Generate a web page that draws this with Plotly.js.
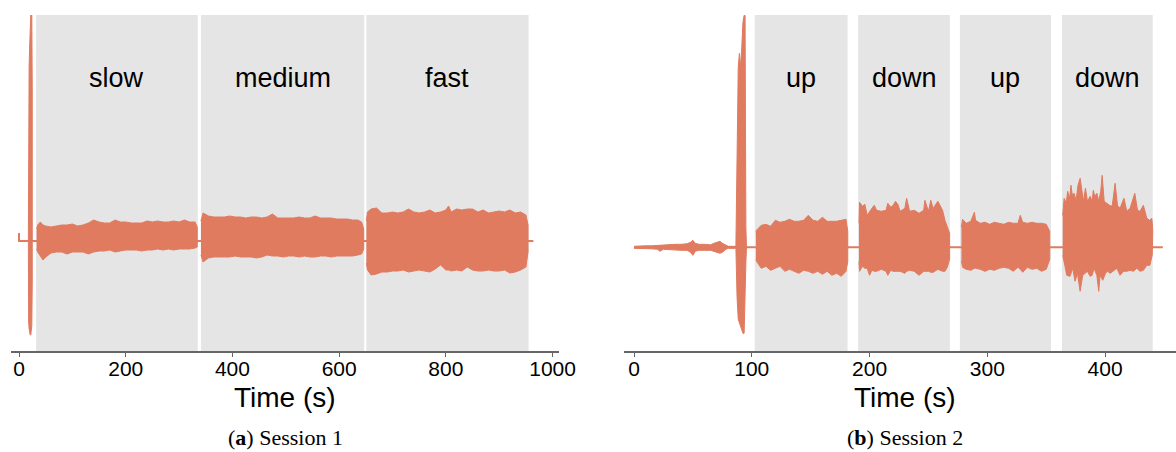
<!DOCTYPE html>
<html>
<head>
<meta charset="utf-8">
<script src="https://cdn.plot.ly/plotly-3.0.1.min.js"></script>
<style>html,body{margin:0;padding:0;background:#fff;}#chart{width:1176px;height:452px;}</style>
</head>
<body>
<div id="chart"></div>
<script>
// ---------- Session 1 (a) ----------
const s1Regions = ['slow', 'medium', 'fast'];
const s1RegStart = [32, 341, 651];
const s1RegEnd = [335, 647, 955];
const s1Ticks = [0, 200, 400, 600, 800, 1000];

// baseline (with small start step)
const s1BaseT = [0, 0, 964];
const s1BaseV = [8, 0, 0];

// initial spike (envelope)
const s1SpikeT = [17.5, 18, 19, 20, 21, 22, 23, 24, 24.8, 25.2];
const s1SpikeHi = [0, 150, 175, 195, 215, 226, 226, 226, 150, 0];
const s1SpikeLo = [0, -80, -88, -92, -94, -94, -92, -85, -40, 0];

// slow segment envelope
const s1SlowT = [33, 35, 40, 45, 50, 60, 70, 80, 90, 100, 110, 120, 130, 140, 150, 160, 170, 180, 190, 200, 210, 220, 230, 240, 250, 260, 270, 280, 290, 300, 310, 320, 330, 334];
const s1SlowHi = [12, 16, 19, 16, 15, 14, 15, 16, 16, 17, 15, 16, 18, 21, 19, 18, 18, 21, 19, 19, 18, 18, 18, 20, 19, 20, 19, 19, 20, 19, 21, 19, 19, 14];
const s1SlowLo = [-8, -11, -15, -19, -16, -12, -11, -11, -13, -11, -11, -11, -13, -11, -10, -10, -9, -11, -10, -9, -9, -9, -10, -9, -9, -8, -9, -8, -9, -8, -8, -8, -7, -6];

// medium segment envelope
const s1MedT = [341, 345, 355, 365, 375, 385, 395, 405, 415, 425, 435, 445, 455, 465, 475, 485, 495, 505, 515, 525, 535, 545, 555, 565, 575, 585, 595, 605, 615, 625, 635, 642, 646];
const s1MedHi = [20, 28, 25, 24, 24, 24, 25, 24, 24, 23, 24, 24, 23, 24, 27, 23, 23, 23, 23, 24, 23, 23, 25, 23, 23, 23, 22, 22, 22, 21, 21, 19, 12];
const s1MedLo = [-14, -21, -17, -16, -16, -16, -16, -15, -16, -16, -16, -17, -16, -14, -15, -15, -16, -15, -15, -16, -15, -16, -16, -15, -15, -16, -15, -15, -15, -15, -14, -13, -8];

// fast segment envelope
const s1FastT = [651, 653, 660, 670, 680, 690, 700, 710, 720, 730, 740, 750, 760, 770, 780, 790, 800, 805, 810, 820, 830, 840, 850, 860, 870, 880, 890, 900, 910, 920, 930, 940, 950, 954];
const s1FastHi = [20, 29, 32, 33, 28, 28, 29, 28, 29, 32, 29, 28, 29, 31, 28, 29, 31, 35, 29, 32, 31, 32, 32, 29, 31, 28, 29, 30, 29, 31, 28, 29, 26, 16];
const s1FastLo = [-22, -29, -34, -33, -31, -31, -30, -30, -29, -31, -30, -29, -30, -31, -28, -24, -29, -29, -30, -29, -30, -26, -29, -30, -30, -29, -30, -30, -29, -32, -31, -29, -26, -11];

// ---------- Session 2 (b) ----------
const s2Regions = ['up', 'down', 'up', 'down'];
const s2RegStart = [102.5, 190.3, 276.7, 363.4];
const s2RegEnd = [181.3, 268.2, 354, 440.4];
const s2Ticks = [0, 100, 200, 300, 400];

const s2BaseT = [0, 449];
const s2BaseV = [0, 0];

// low-level noise before the spike
const s2PreT = [0, 5, 10, 15, 20, 22, 25, 30, 35, 40, 45, 48, 50, 52, 55, 60, 65, 68, 70, 73, 75, 78, 80, 83, 86];
const s2PreHi = [1, 1.5, 1.5, 1.5, 2, 2, 2, 2.5, 3, 3, 3.5, 5, 7, 4, 3, 3, 2.5, 4, 5, 6, 4, 2, 1, 1, 1];
const s2PreLo = [-1, -1.5, -1.5, -1.5, -2, -4, -2, -2, -2.5, -3, -3, -5, -8, -4, -3, -3, -3, -4, -5, -6, -5, -2, -1, -1, -1];

// spike
const s2SpikeT = [86.5, 87.5, 88.5, 89.5, 90.5, 91.5, 92.5, 93.5, 94.3, 95, 95.5];
const s2SpikeHi = [0, 110, 180, 194, 180, 200, 225, 232, 232, 20, 0];
const s2SpikeLo = [0, -50, -72, -76, -78, -82, -86, -86, -70, -15, 0];

// up (1)
const s2Up1T = [103.5, 104, 108, 112, 116, 120, 124, 128, 132, 136, 140, 144, 148, 152, 156, 160, 164, 168, 172, 176, 180, 181.5];
const s2Up1Hi = [15, 17, 22, 23, 21, 27, 25, 26, 28, 26, 26, 27, 32, 27, 26, 30, 26, 26, 26, 27, 28, 16];
const s2Up1Lo = [-12, -14, -21, -19, -23, -21, -19, -24, -22, -24, -26, -23, -24, -26, -24, -27, -24, -28, -26, -29, -24, -14];

// down (1)
const s2Dn1T = [191, 191.5, 194, 196, 198, 200, 202, 204, 206, 210, 214, 215.5, 218, 220, 222, 224, 226, 230, 231.5, 234, 238, 242, 246, 247, 250, 252, 254, 258, 262, 264, 266, 268];
const s2Dn1Hi = [24, 45, 41, 43, 32, 36, 39, 42, 37, 36, 37, 44, 40, 42, 46, 43, 36, 39, 49, 36, 37, 34, 37, 47, 36, 47, 39, 46, 37, 27, 20, 14];
const s2Dn1Lo = [-14, -24, -19, -21, -21, -28, -23, -24, -24, -22, -24, -28, -23, -24, -24, -24, -24, -26, -24, -23, -24, -28, -24, -24, -24, -25, -25, -22, -24, -24, -20, -12];

// up (2)
const s2Up2T = [278, 279, 282, 286, 289, 290, 294, 298, 302, 306, 310, 314, 318, 322, 326, 328, 330, 334, 338, 342, 346, 350, 353];
const s2Up2Hi = [20, 28, 24, 26, 35, 27, 24, 25, 23, 25, 24, 23, 25, 24, 24, 32, 25, 24, 25, 24, 24, 23, 16];
const s2Up2Lo = [-14, -20, -22, -23, -21, -21, -22, -24, -22, -23, -21, -20, -21, -24, -20, -22, -25, -20, -22, -21, -24, -22, -12];

// down (2)
const s2Dn2HiT = [364, 365.2, 367, 368.2, 369.9, 371, 372.2, 373.6, 375.4, 377, 378.8, 380.5, 381.6, 383.3, 385, 387.3, 389, 390, 391.2, 393, 394.6, 396.3, 397.5, 399.2, 401.4, 403.7, 406, 408.5, 410.5, 412.7, 416, 418.4, 421.2, 425.2, 427.5, 429.7, 432.5, 435.4, 437.7, 439.7, 440.5];
const s2Dn2Hi = [32, 49, 44, 56, 49, 62, 52, 54, 47, 62, 69, 52, 46, 59, 46, 51, 46, 57, 51, 54, 46, 56, 72, 46, 44, 42, 41, 64, 42, 39, 49, 36, 39, 54, 37, 36, 42, 29, 27, 29, 16];
const s2Dn2LoT = [364, 365.8, 367.4, 370.2, 372.5, 374.5, 376.5, 378.8, 381, 383, 385, 387.3, 389, 390.6, 393, 394.6, 395.7, 398, 400.3, 402, 404.3, 407, 410, 412.7, 415.6, 418.4, 421.2, 424, 426.9, 429.7, 432.5, 435.4, 438, 440];
const s2Dn2Lo = [-8, -18, -28, -29, -21, -34, -26, -44, -28, -26, -24, -29, -28, -21, -28, -44, -28, -33, -26, -24, -26, -24, -21, -28, -24, -24, -23, -24, -21, -24, -23, -18, -18, -8];

// ---------- drawing ----------
const COL = '#e07b60';
const SHADE = '#e5e5e5';
const FONT = 'Liberation Sans, Arial, sans-serif';

function envelope(tHi, hi, tLo, lo, xa, ya) {
  return {
    x: tHi.concat(tLo.slice().reverse()),
    y: hi.concat(lo.slice().reverse()),
    xaxis: xa, yaxis: ya,
    type: 'scatter', mode: 'lines', fill: 'toself',
    fillcolor: COL, line: {color: COL, width: 1},
    hoverinfo: 'skip', showlegend: false
  };
}
function baseline(t, v, xa, ya) {
  return {x: t, y: v, xaxis: xa, yaxis: ya, type: 'scatter', mode: 'lines',
    line: {color: COL, width: 2}, hoverinfo: 'skip', showlegend: false};
}

const traces = [
  baseline(s1BaseT, s1BaseV, 'x', 'y'),
  envelope(s1SpikeT, s1SpikeHi, s1SpikeT, s1SpikeLo, 'x', 'y'),
  envelope(s1SlowT, s1SlowHi, s1SlowT, s1SlowLo, 'x', 'y'),
  envelope(s1MedT, s1MedHi, s1MedT, s1MedLo, 'x', 'y'),
  envelope(s1FastT, s1FastHi, s1FastT, s1FastLo, 'x', 'y'),
  baseline(s2BaseT, s2BaseV, 'x2', 'y2'),
  envelope(s2PreT, s2PreHi, s2PreT, s2PreLo, 'x2', 'y2'),
  envelope(s2SpikeT, s2SpikeHi, s2SpikeT, s2SpikeLo, 'x2', 'y2'),
  envelope(s2Up1T, s2Up1Hi, s2Up1T, s2Up1Lo, 'x2', 'y2'),
  envelope(s2Dn1T, s2Dn1Hi, s2Dn1T, s2Dn1Lo, 'x2', 'y2'),
  envelope(s2Up2T, s2Up2Hi, s2Up2T, s2Up2Lo, 'x2', 'y2'),
  envelope(s2Dn2HiT, s2Dn2Hi, s2Dn2LoT, s2Dn2Lo, 'x2', 'y2')
];

const shapes = [];
const annotations = [];
function addRegions(starts, ends, labels, xref, yref) {
  for (let i = 0; i < starts.length; i++) {
    shapes.push({type: 'rect', xref: xref, yref: yref + ' domain', x0: starts[i], x1: ends[i], y0: 0, y1: 1,
      fillcolor: SHADE, line: {width: 0}, layer: 'below'});
    annotations.push({xref: xref, yref: yref + ' domain', x: (starts[i] + ends[i]) / 2, y: 0.8125,
      text: labels[i], showarrow: false, xanchor: 'center', yanchor: 'middle',
      font: {family: FONT, size: 27, color: '#000'}});
  }
}
addRegions(s1RegStart, s1RegEnd, s1Regions, 'x', 'y');
addRegions(s2RegStart, s2RegEnd, s2Regions, 'x2', 'y2');

function xTitle(xp, text) {
  annotations.push({xref: 'paper', yref: 'paper', x: xp, y: -0.137, text: text, showarrow: false,
    xanchor: 'center', yanchor: 'middle', font: {family: FONT, size: 28, color: '#000'}});
}
function caption(xp, text) {
  annotations.push({xref: 'paper', yref: 'paper', x: xp, y: -0.256, text: text, showarrow: false,
    xanchor: 'center', yanchor: 'middle', font: {family: 'Liberation Serif, serif', size: 22, color: '#000'}});
}
xTitle(285 / 1176, 'Time (s)');
xTitle(905 / 1176, 'Time (s)');
caption(285 / 1176, '(<b>a</b>) Session 1');
caption(905 / 1176, '(<b>b</b>) Session 2');

function xaxisDef(domain, range, ticks) {
  return {domain: domain, range: range, tickvals: ticks, ticktext: ticks.map(String),
    showline: true, linecolor: '#666', linewidth: 1.5, ticks: 'outside', ticklen: 4,
    tickcolor: '#666', tickwidth: 1, showgrid: false, zeroline: false, ticklabelstandoff: -6,
    tickfont: {family: FONT, size: 21, color: '#000'}, fixedrange: true};
}
const layout = {
  width: 1176, height: 452,
  margin: {l: 0, r: 0, t: 15, b: 101},
  paper_bgcolor: '#fff', plot_bgcolor: '#fff',
  showlegend: false,
  xaxis: xaxisDef([11 / 1176, 559 / 1176], [-15, 1012], s1Ticks),
  yaxis: {domain: [0, 1], range: [-110, 226], visible: false, fixedrange: true},
  xaxis2: Object.assign(xaxisDef([624 / 1176, 1], [-8.5, 460.2], s2Ticks), {anchor: 'y2'}),
  yaxis2: {domain: [0, 1], range: [-103.7, 232.3], visible: false, anchor: 'x2', fixedrange: true},
  shapes: shapes,
  annotations: annotations
};
Plotly.newPlot('chart', traces, layout, {displayModeBar: false, staticPlot: true});
</script>
</body>
</html>
